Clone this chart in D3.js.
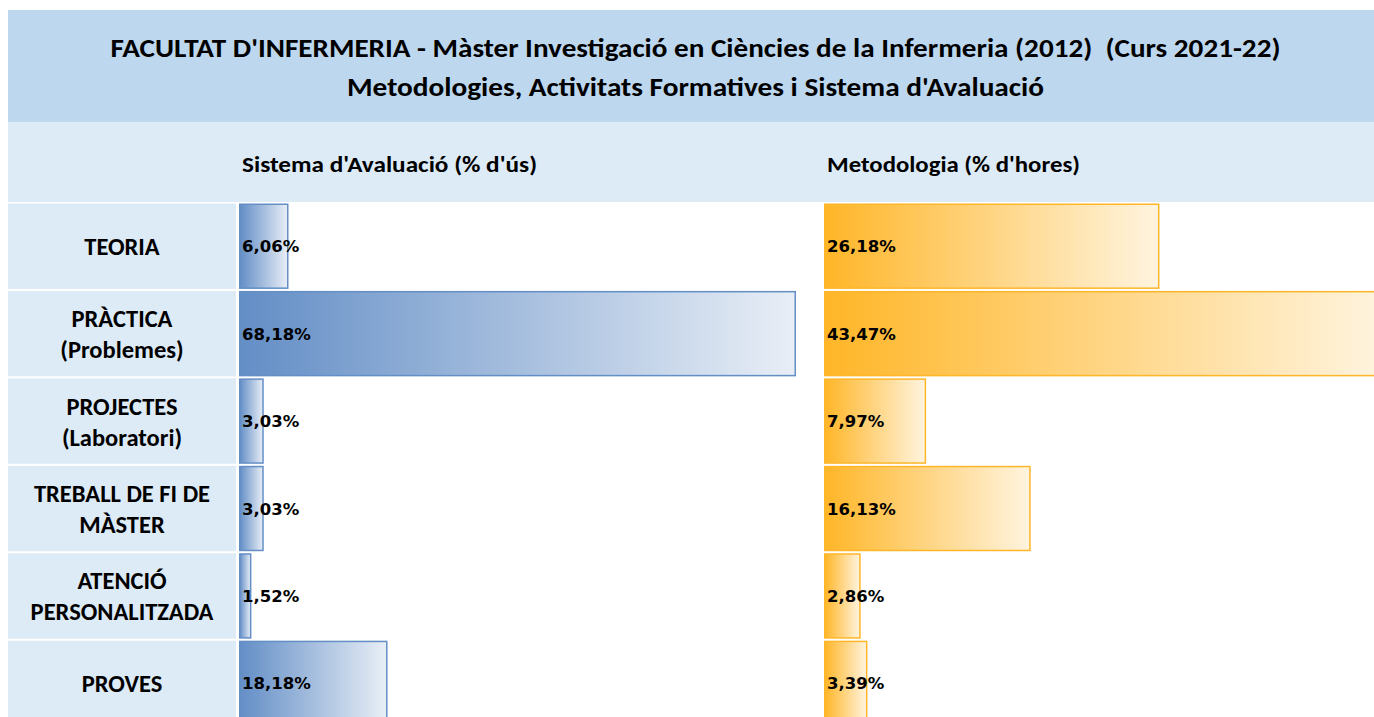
<!DOCTYPE html>
<html>
<head>
<meta charset="utf-8">
<script src="https://cdn.jsdelivr.net/npm/d3@7"></script>
<style>
  body { margin: 0; background: #fff; }
  svg { display: block; }
  .hdr { font-family: Carlito, Calibri, Lato, sans-serif; font-weight: bold; fill: #000; white-space: pre; }
  .val { font-family: Verdana, "DejaVu Sans", sans-serif; font-weight: bold; font-size: 16.5px; fill: #000; }
</style>
</head>
<body>
<svg id="chart" width="1374" height="717"></svg>
<script>
// data
const titleLines = [
    "FACULTAT D'INFERMERIA - Màster Investigació en Ciències de la Infermeria (2012)  (Curs 2021-22)",
    "Metodologies, Activitats Formatives i Sistema d'Avaluació"
];
const seriesNames = ["Sistema d'Avaluació (% d'ús)", "Metodologia (% d'hores)"];
const categories = [
    ["TEORIA"],
    ["PRÀCTICA", "(Problemes)"],
    ["PROJECTES", "(Laboratori)"],
    ["TREBALL DE FI DE", "MÀSTER"],
    ["ATENCIÓ", "PERSONALITZADA"],
    ["PROVES"]
];
const avaluacio = [6.06, 68.18, 3.03, 3.03, 1.52, 18.18];
const metodologia = [26.18, 43.47, 7.97, 16.13, 2.86, 3.39];
const barColors = ["#638EC6", "#FFB628"];

const svg = d3.select("#chart");
const W = 1374;

const locale = d3.formatLocale({decimal: ",", thousands: ".", grouping: [3], currency: ["", "€"]});
const fmt = v => locale.format(".2f")(v) + "%";

// title band
svg.append("rect").attr("x", 8).attr("y", 10).attr("width", W - 8).attr("height", 112).attr("fill", "#BDD7EE");
svg.append("rect").attr("x", 8).attr("y", 122).attr("width", W - 8).attr("height", 80).attr("fill", "#DDEBF7");

// fit a text to a given width, keeping the font size
function fit(sel, w) {
    sel.attr("textLength", w).attr("lengthAdjust", "spacingAndGlyphs");
}

svg.append("text").attr("class", "hdr").attr("x", 695.5).attr("y", 57)
    .attr("text-anchor", "middle").style("font-size", "26px")
    .text(titleLines[0]).call(fit, 1170);
svg.append("text").attr("class", "hdr").attr("x", 695.5).attr("y", 95.5)
    .attr("text-anchor", "middle").style("font-size", "26px")
    .text(titleLines[1]).call(fit, 697);

const colX = [239, 824];
const colW = 557;
const subW = [295, 253];
seriesNames.forEach((s, i) => {
    svg.append("text").attr("class", "hdr").attr("x", colX[i] + 3).attr("y", 172)
        .style("font-size", "22.5px").text(s).call(fit, subW[i]);
});

// scales
const y = d3.scaleBand()
    .domain(d3.range(categories.length))
    .range([203.5, 203.5 + 87.1 * categories.length])
    .paddingInner(0.023)
    .paddingOuter(0);

const xs = [
    d3.scaleLinear().domain([0, d3.max(avaluacio)]).range([0, colW]),
    d3.scaleLinear().domain([0, d3.max(metodologia)]).range([0, colW])
];

// gradients
const defs = svg.append("defs");
barColors.forEach((c, i) => {
    const g = defs.append("linearGradient").attr("id", "grad" + i)
        .attr("x1", 0).attr("x2", 1).attr("y1", 0).attr("y2", 0);
    g.append("stop").attr("offset", 0).attr("stop-color", c);
    g.append("stop").attr("offset", 1).attr("stop-color", d3.interpolateRgb(c, "#fff")(0.85));
});

// row labels
const rows = svg.append("g").selectAll("g")
    .data(categories)
    .join("g")
    .attr("transform", (d, i) => "translate(0," + y(i) + ")");

rows.append("rect")
    .attr("x", 8).attr("width", 228).attr("height", y.bandwidth())
    .attr("fill", "#DDEBF7");

rows.each(function(d) {
    const g = d3.select(this);
    const mid = y.bandwidth() / 2;
    d.forEach((line, k) => {
        g.append("text").attr("class", "hdr")
            .attr("x", 122)
            .attr("y", mid + 9 + (k - (d.length - 1) / 2) * 31)
            .attr("text-anchor", "middle")
            .style("font-size", "24.5px")
            .text(line);
    });
});

// bars
[avaluacio, metodologia].forEach((vals, s) => {
    const g = svg.append("g").attr("transform", "translate(" + colX[s] + ",0)");
    g.selectAll("rect")
        .data(vals)
        .join("rect")
        .attr("x", 0.75)
        .attr("y", (d, i) => y(i) + 0.75)
        .attr("width", d => Math.max(0, xs[s](d) - 1.5))
        .attr("height", y.bandwidth() - 1.5)
        .attr("fill", "url(#grad" + s + ")")
        .attr("stroke", barColors[s])
        .attr("stroke-width", 1.5);
    g.selectAll("text")
        .data(vals)
        .join("text")
        .attr("class", "val")
        .attr("x", 3)
        .attr("y", (d, i) => y(i) + y.bandwidth() / 2 + 6)
        .text(d => fmt(d));
});
</script>
</body>
</html>
